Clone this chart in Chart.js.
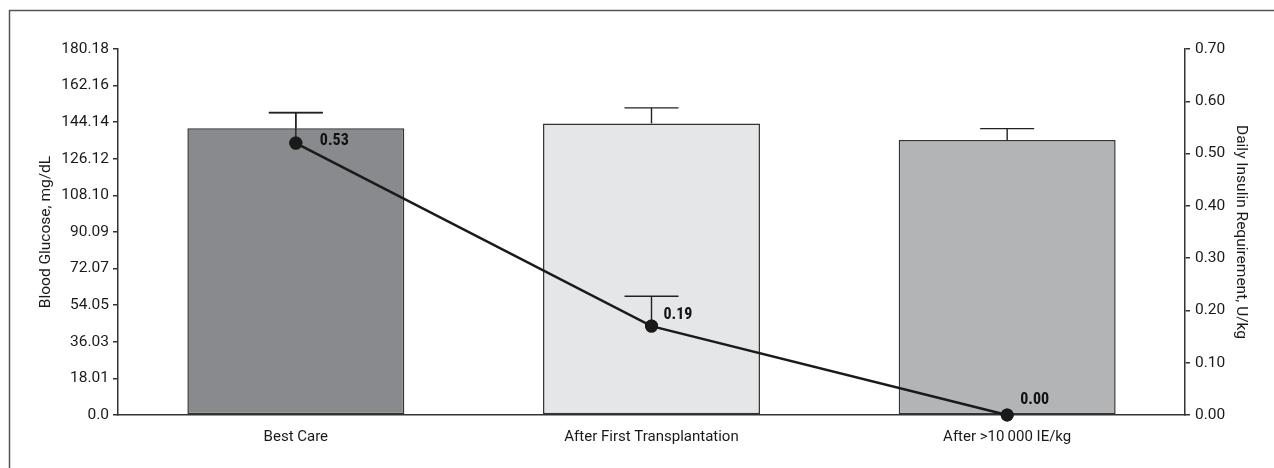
<!DOCTYPE html>
<html>
<head>
<meta charset="utf-8">
<script src="https://cdn.jsdelivr.net/npm/chart.js@4.4.1/dist/chart.umd.min.js"></script>
<style>
  html, body { margin: 0; padding: 0; background: #fff; }
  #wrap { position: relative; width: 1274px; height: 468px; }
</style>
</head>
<body>
<div id="wrap"><canvas id="chart" width="1274" height="468"></canvas></div>
<script>
// categories and values
const categories = ['Best Care', 'After First Transplantation', 'After >10\u2009000 IE/kg'];
const glucoseMean = [141.2, 143.5, 135.4];
const glucoseUpper = [148.9, 151.2, 141.0];
const insulinMean = [0.52, 0.17, 0.0];
const insulinUpper = [0.578, 0.227, null];
const insulinLabels = ['0.53', '0.19', '0.00'];
const glucoseTicks = [0, 18.018, 36.036, 54.054, 72.072, 90.09, 108.108, 126.126, 144.144, 162.162, 180.18];
const glucoseTickLabels = ['0.0', '18.01', '36.03', '54.05', '72.07', '90.09', '108.10', '126.12', '144.14', '162.16', '180.18'];
const barColors = ['#898a8d', '#e5e6e8', '#b3b4b6'];

const FONT = 'Roboto, "DejaVu Sans Condensed", sans-serif';
const INK = '#333333';
const TEXT = '#1a1a1a';

Chart.defaults.font.family = FONT;
Chart.defaults.font.style = 'condensed';

// frame, error bars and point labels
const extras = {
  id: 'extras',
  beforeDraw(chart) {
    const ctx = chart.ctx;
    ctx.save();
    ctx.strokeStyle = '#555';
    ctx.lineWidth = 1.5;
    ctx.beginPath();
    ctx.moveTo(9.5, 468);
    ctx.lineTo(9.5, 10.5);
    ctx.lineTo(1274, 10.5);
    ctx.stroke();
    ctx.restore();
  },
  afterDatasetsDraw(chart) {
    const ctx = chart.ctx;
    const y = chart.scales.y, y2 = chart.scales.y2;
    const cap = 27;
    ctx.save();
    ctx.strokeStyle = '#222';
    ctx.lineWidth = 1.4;
    const barMeta = chart.getDatasetMeta(0);
    glucoseUpper.forEach((v, i) => {
      const px = barMeta.data[i].x;
      const top = y.getPixelForValue(v);
      const base = y.getPixelForValue(glucoseMean[i]);
      ctx.beginPath();
      ctx.moveTo(px, base); ctx.lineTo(px, top);
      ctx.moveTo(px - cap, top); ctx.lineTo(px + cap, top);
      ctx.stroke();
    });
    const lineMeta = chart.getDatasetMeta(1);
    insulinUpper.forEach((v, i) => {
      if (v === null) return;
      const pt = lineMeta.data[i];
      const top = y2.getPixelForValue(v);
      ctx.beginPath();
      ctx.moveTo(pt.x, pt.y); ctx.lineTo(pt.x, top);
      ctx.moveTo(pt.x - cap, top); ctx.lineTo(pt.x + cap, top);
      ctx.stroke();
    });
    // redraw points over the error lines
    lineMeta.data.forEach(pt => {
      ctx.fillStyle = '#1a1a1a';
      ctx.beginPath();
      ctx.arc(pt.x, pt.y, 6.5, 0, Math.PI * 2);
      ctx.fill();
    });
    const offsets = [[24, -2], [12, -11], [13, -15]];
    ctx.fillStyle = '#111';
    ctx.font = 'condensed bold 16px ' + FONT;
    ctx.textAlign = 'left';
    ctx.textBaseline = 'middle';
    insulinLabels.forEach((t, i) => {
      const pt = lineMeta.data[i];
      ctx.fillText(t, pt.x + offsets[i][0], pt.y + offsets[i][1]);
    });
    ctx.restore();
  }
};

new Chart(document.getElementById('chart').getContext('2d'), {
  type: 'bar',
  data: {
    labels: categories,
    datasets: [{
      type: 'bar',
      label: 'Blood Glucose',
      data: glucoseMean,
      yAxisID: 'y',
      backgroundColor: barColors,
      borderColor: INK,
      borderWidth: 1.5,
      borderSkipped: false,
      categoryPercentage: 0.61,
      barPercentage: 1.0,
      order: 2
    }, {
      type: 'line',
      label: 'Daily Insulin Requirement',
      data: insulinMean,
      yAxisID: 'y2',
      borderColor: '#1a1a1a',
      borderWidth: 2.5,
      tension: 0,
      pointRadius: 6.5,
      pointBackgroundColor: '#1a1a1a',
      pointBorderWidth: 0,
      clip: false,
      order: 1
    }]
  },
  options: {
    responsive: false,
    animation: false,
    devicePixelRatio: 1,
    layout: { padding: { top: 49, left: 0, right: 0, bottom: 0 } },
    plugins: { legend: { display: false }, tooltip: { enabled: false } },
    scales: {
      x: {
        grid: { display: false },
        border: { display: true, color: INK, width: 1.5 },
        ticks: { color: TEXT, font: { size: 15 }, padding: 5, maxRotation: 0 },
        afterFit(scale) { scale.height = 53; }
      },
      y: {
        position: 'left',
        min: 0,
        max: 180.18,
        afterBuildTicks(scale) { scale.ticks = glucoseTicks.map(v => ({ value: v })); },
        grid: { drawOnChartArea: false, tickLength: 5, color: INK, lineWidth: 1.5 },
        border: { display: true, color: INK, width: 1.5 },
        ticks: {
          color: TEXT,
          font: { size: 15.5 },
          padding: 4,
          callback: (v, i) => glucoseTickLabels[i]
        },
        title: { display: true, text: 'Blood Glucose, mg/dL', color: TEXT, font: { size: 15.5 }, padding: { top: 37, bottom: 0 } },
        afterFit(scale) { scale.width = 118; }
      },
      y2: {
        position: 'right',
        min: 0,
        max: 0.7,
        grid: { drawOnChartArea: false, tickLength: 5, color: INK, lineWidth: 1.5 },
        border: { display: true, color: INK, width: 1.5 },
        ticks: {
          stepSize: 0.1,
          color: TEXT,
          font: { size: 15.5 },
          padding: 5,
          callback: v => v.toFixed(2)
        },
        title: { display: true, text: 'Daily Insulin Requirement, U/kg', color: TEXT, font: { size: 15.5 }, padding: { top: 24, bottom: 0 } },
        afterFit(scale) { scale.width = 89; }
      }
    }
  },
  plugins: [extras]
});
</script>
</body>
</html>
